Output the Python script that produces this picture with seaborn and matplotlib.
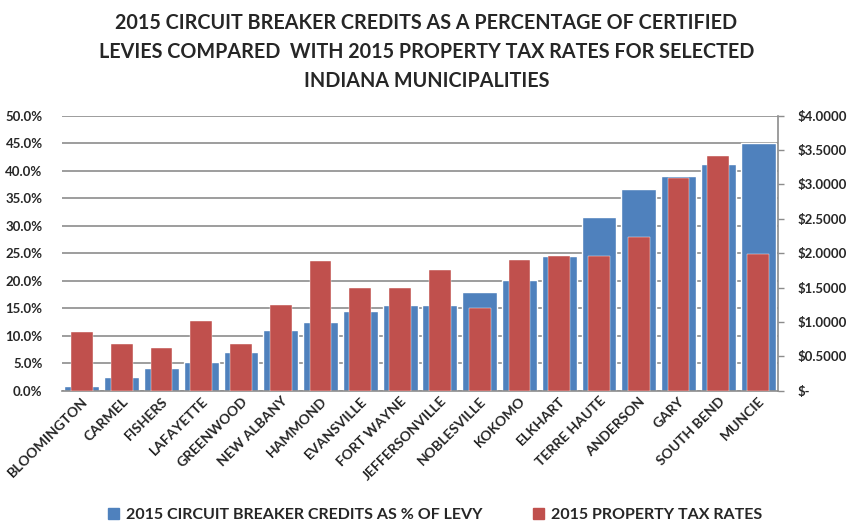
import matplotlib
matplotlib.use("Agg")
import matplotlib.pyplot as plt
import seaborn as sns
import pandas as pd
from matplotlib.ticker import FuncFormatter, MultipleLocator
from matplotlib.patches import Patch

cities = ["BLOOMINGTON", "CARMEL", "FISHERS", "LAFAYETTE", "GREENWOOD", "NEW ALBANY",
          "HAMMOND", "EVANSVILLE", "FORT WAYNE", "JEFFERSONVILLE", "NOBLESVILLE", "KOKOMO",
          "ELKHART", "TERRE HAUTE", "ANDERSON", "GARY", "SOUTH BEND", "MUNCIE"]
credits_pct = [0.9, 2.4, 4.2, 5.2, 7.0, 11.1, 12.5, 14.4, 15.5, 15.5, 18.0, 20.1,
               24.5, 31.5, 36.6, 39.1, 41.3, 45.1]
tax_rates = [0.86, 0.68, 0.625, 1.01, 0.68, 1.24, 1.88, 1.50, 1.50, 1.76, 1.21, 1.905,
             1.965, 1.965, 2.23, 3.10, 3.42, 1.99]

blue = "#4f81bd"
red = "#c0504d"

sns.set_theme(style="white")
plt.rcParams['font.family'] = ['Lato', 'DejaVu Sans']

df = pd.DataFrame({"city": cities, "credits": credits_pct, "tax": tax_rates})

fig = plt.figure(figsize=(8.53, 5.23), dpi=100)
ax = fig.add_axes([62/853, 1-390.7/523, (778-62)/853, (390.7-115.7)/523])
sns.barplot(data=df, x="city", y="credits", color=blue, width=0.875, ax=ax,
            saturation=1, order=cities)
ax2 = ax.twinx()
sns.barplot(data=df, x="city", y="tax", color=red, width=0.55, ax=ax2,
            saturation=1, order=cities)
for p in ax2.patches:
    p.set_edgecolor("white"); p.set_linewidth(0.3)

ax.set_ylim(0, 50)
ax2.set_ylim(0, 4)
ax.set_xlim(-0.5, len(cities) - 0.5)
ax.yaxis.set_major_locator(MultipleLocator(5))
ax2.yaxis.set_major_locator(MultipleLocator(0.5))
ax.yaxis.set_major_formatter(FuncFormatter(lambda v, p: f"{v:.1f}%"))
ax2.yaxis.set_major_formatter(FuncFormatter(lambda v, p: "$-" if abs(v) < 1e-9 else f"${v:.4f}"))
ax.set_axisbelow(True)
ax.grid(axis="y", color="#8c8c8c", linewidth=1.2)
ax.grid(axis="x", visible=False)
ax2.grid(False)

for a in (ax, ax2):
    a.set_xlabel("")
    a.set_ylabel("")
    for s in a.spines.values():
        s.set_visible(False)
ax2.spines["right"].set_visible(True)
ax2.spines["right"].set_color("#8c8c8c")
ax2.spines["right"].set_linewidth(1.2)
ax.spines["bottom"].set_visible(True)
ax.spines["bottom"].set_color("#8c8c8c")
ax.spines["bottom"].set_linewidth(1.2)

ax.tick_params(axis="y", length=0, pad=14, labelsize=9.5)
ax2.tick_params(axis="y", length=4, width=1, color="#8c8c8c", pad=10, labelsize=9.5, right=True)
ax.tick_params(axis="x", length=0, pad=3, labelsize=10)
for lab in ax.get_yticklabels() + ax2.get_yticklabels():
    lab.set_fontweight("bold")
ax.set_xticks(range(len(cities)))
ax.set_xticklabels(cities, rotation=45, ha="right", rotation_mode="anchor", fontweight="bold")

fig.text(0.5, 0.975, "2015 CIRCUIT BREAKER CREDITS AS A PERCENTAGE OF CERTIFIED\n"
         "LEVIES COMPARED  WITH 2015 PROPERTY TAX RATES FOR SELECTED\n"
         "INDIANA MUNICIPALITIES", ha="center", va="top", fontsize=14.2,
         fontweight="bold", linespacing=1.55)

handles = [Patch(color=blue), Patch(color=red)]
fig.legend(handles, ["2015 CIRCUIT BREAKER CREDITS AS % OF LEVY", "2015 PROPERTY TAX RATES"],
           loc="lower center", bbox_to_anchor=(0.51, -0.025), ncol=2, frameon=False,
           prop={"weight": "bold", "size": 11.5}, handlelength=0.7, handleheight=0.7,
           columnspacing=3.2, handletextpad=0.4)

fig.savefig("out.png", dpi=100)
